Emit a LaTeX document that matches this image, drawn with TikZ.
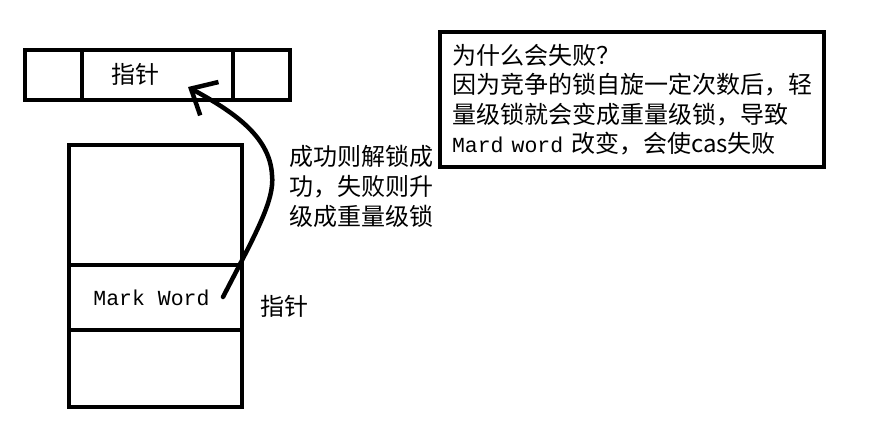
\documentclass[tikz,border=0pt]{standalone}
\usepackage{fontspec}
\setmainfont{Noto Sans CJK SC}
\setmonofont{Liberation Mono}
\usetikzlibrary{positioning,arrows.meta}

\tikzset{
  cell/.style={draw, line width=4.5pt, inner sep=0pt, outer sep=0pt},
  cjktext/.style={font=\fontsize{24}{30}\selectfont, inner sep=0pt},
}

\begin{document}
\begin{tikzpicture}[x=1pt, y=-1pt]
    \useasboundingbox (0,0) rectangle (876,425);

    % pointer row
    \node[cell, minimum width=57pt, minimum height=50pt, anchor=north west] (rowleft) at (25,50) {};
    \node[cell, minimum width=151pt, minimum height=50pt, right=0pt of rowleft] (rowmid) {};
    \node[cell, minimum width=57pt, minimum height=50pt, right=0pt of rowmid] (rowright) {};
    \node[cjktext] (rowlabel) at (135,74) {指针};

    % object header
    \node[cell, minimum width=173pt, minimum height=120pt, anchor=north west] (objtop) at (69,145) {};
    \node[cell, minimum width=173pt, minimum height=65pt, below=0pt of objtop,
          font=\ttfamily\fontsize{21.5}{26}\selectfont] (markword) {Mark\ Word\hspace*{8pt}};
    \node[cell, minimum width=173pt, minimum height=77pt, below=0pt of markword] (objbottom) {};

    \node[cjktext] (sidelabel) at (284,306) {指针};
    \node[cjktext, align=left, anchor=north west] (cas) at (289,145) {成功则解锁成\\功，失败则升\\级成重量级锁};

    \node[cell, cjktext, align=left, minimum width=383pt, minimum height=135pt,
          anchor=north west, text width=360pt, inner xsep=12pt,
          font=\fontsize{24}{29.5}\selectfont] (why) at (440,32)
          {为什么会失败？\\因为竞争的锁自旋一定次数后，轻\\量级锁就会变成重量级锁，导致\\{\ttfamily\fontsize{21.5}{29.5}\selectfont Mard word }改变，会使cas失败};

    \coordinate (tail) at (223,297);
    \coordinate (bend) at (272,175);
    \coordinate (head) at (188,87);
    \draw[line width=4.5pt, line cap=round, -{Straight Barb[length=21pt, width=38pt]}]
        (tail) .. controls (255,235) and (275,200) .. (bend)
               .. controls (270,135) and (230,110) .. (head);
\end{tikzpicture}
\end{document}
